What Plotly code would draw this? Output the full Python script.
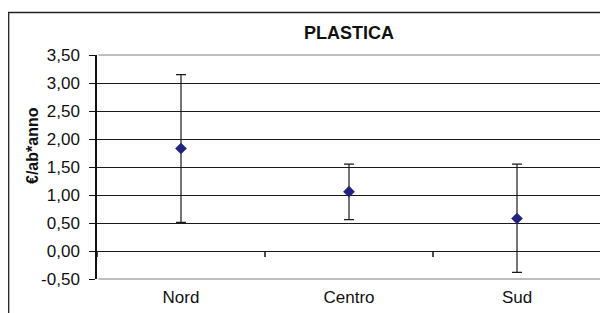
import plotly.graph_objects as go

categories = ["Nord", "Centro", "Sud"]
mean_values = [1.83, 1.06, 0.58]
upper_values = [3.15, 1.55, 1.55]
lower_values = [0.51, 0.56, -0.38]
y_ticks = [-0.5, 0, 0.5, 1, 1.5, 2, 2.5, 3, 3.5]
y_tick_labels = ["-0,50", "0,00", "0,50", "1,00", "1,50", "2,00", "2,50", "3,00", "3,50"]

err_plus = [u - m for u, m in zip(upper_values, mean_values)]
err_minus = [m - l for m, l in zip(mean_values, lower_values)]

FONT = "Liberation Sans, Arial, sans-serif"
OFF = 8  # browser default body margin

fig = go.Figure()
fig.add_trace(go.Scatter(
    x=list(range(len(categories))), y=mean_values, mode="markers",
    marker=dict(symbol="diamond", size=9, color="#22227f"),
    error_y=dict(type="data", symmetric=False, array=err_plus, arrayminus=err_minus,
                 color="#1a1a1a", thickness=1.2, width=5),
    showlegend=False,
))

W, H = 608 - OFF, 313 - OFF
L, R, T, B = 97 - OFF, 7, 55 - OFF, 34

shapes = []
for b in [-0.5, 0.5, 1.5, 2.5]:
    shapes.append(dict(type="line", xref="x", yref="y", x0=b, x1=b,
                       ysizemode="pixel", yanchor=0, y0=0, y1=-6,
                       line=dict(color="#111", width=1.5)))
# plot area border (gray): top, right, bottom
gray = dict(color="#a8a8a8", width=1.5)
shapes.append(dict(type="line", xref="paper", yref="paper", x0=0.003, x1=1, y0=1, y1=1, line=gray, layer="above"))
shapes.append(dict(type="line", xref="paper", yref="paper", x0=0.003, x1=1, y0=0, y1=0, line=gray, layer="above"))
shapes.append(dict(type="line", xref="paper", yref="paper", x0=1, x1=1, y0=0, y1=1, line=gray, layer="above"))
pw, ph = W - L - R, H - T - B
shapes.append(dict(type="rect", xref="paper", yref="paper",
                   x0=(0.7 - L) / pw, x1=(W + 10 - L) / pw,
                   y0=(H - B - (H + 10)) / ph, y1=(H - B - 4.5) / ph,
                   line=dict(color="#222", width=1.3)))

fig.update_layout(
    width=W, height=H,
    margin=dict(l=L, r=R, t=T, b=B),
    paper_bgcolor="white", plot_bgcolor="white",
    font=dict(family=FONT, size=17, color="#111"),
    title=dict(text="<b>PLASTICA</b>", x=(L + pw / 2) / W, xanchor="center",
               y=1 - (33 - OFF) / H, yanchor="middle", font=dict(size=18, family=FONT, color="#111")),
    xaxis=dict(range=[-0.5, 2.5], tickmode="array", tickvals=list(range(len(categories))),
               ticktext=categories, showgrid=False, zeroline=False, showline=False,
               ticks="", ticklabelstandoff=6),
    yaxis=dict(range=[-0.5, 3.5], tickmode="array", tickvals=y_ticks, ticktext=y_tick_labels,
               showgrid=True, gridcolor="#1a1a1a", gridwidth=1, zeroline=False,
               showline=True, linecolor="#111", linewidth=1.5, ticks="outside",
               ticklen=6, tickcolor="#111", tickwidth=1.2, ticklabelstandoff=6),
    shapes=shapes,
    annotations=[dict(text="<b>€/ab*anno</b>", xref="paper", yref="paper",
                      x=(32 - OFF - L) / pw, y=(H - B - (146 - OFF)) / ph, textangle=-90,
                      showarrow=False, font=dict(size=16, family=FONT, color="#111"),
                      xanchor="center", yanchor="middle")],
)

fig.write_html("out.html")
